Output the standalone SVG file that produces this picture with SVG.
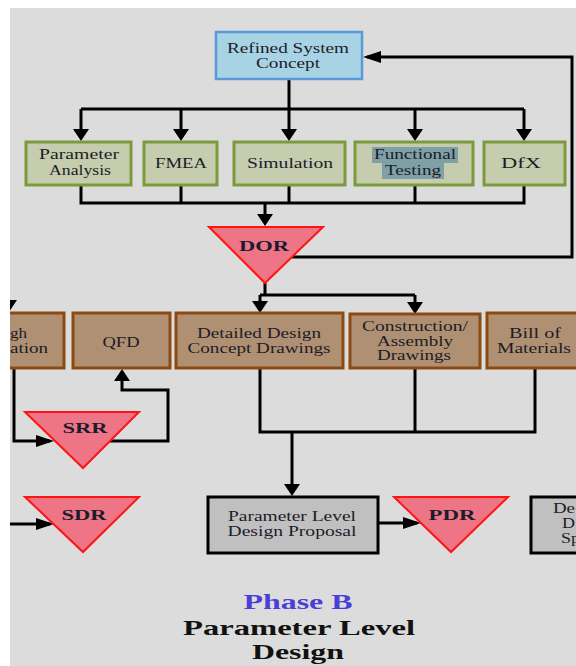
<svg xmlns="http://www.w3.org/2000/svg" width="576" height="666" viewBox="0 0 576 666">
<defs>
<style>
.t{font-family:"Liberation Serif","Times New Roman",serif;font-size:14px;fill:#1c1c28;text-anchor:middle}
.tb{font-family:"Liberation Serif","Times New Roman",serif;font-size:15px;font-weight:bold;fill:#1c1c30;text-anchor:middle}
.ttl{font-family:"Liberation Serif","Times New Roman",serif;font-size:21px;font-weight:bold;text-anchor:middle}
.blue{fill:#a8d3e4;stroke:#5b98d8;stroke-width:2.5}
.green{fill:#c6cdaf;stroke:#7b9a3a;stroke-width:3}
.brown{fill:#b09072;stroke:#8d4a10;stroke-width:3}
.gray{fill:#c0c0c0;stroke:#000;stroke-width:3}
.tri{fill:#ee7585;stroke:#ff1414;stroke-width:2}
.c{fill:none;stroke:#000;stroke-width:3}
</style>
<marker id="av" markerWidth="12" markerHeight="16" refX="8" refY="8" orient="auto" markerUnits="userSpaceOnUse"><path d="M0,0 L12,8 L0,16 z" fill="#000"/></marker>
<marker id="ah" markerWidth="18" markerHeight="12" refX="14" refY="6" orient="auto" markerUnits="userSpaceOnUse"><path d="M0,0 L18,6 L0,12 z" fill="#000"/></marker>
<clipPath id="vis"><rect x="10" y="8" width="566" height="658"/></clipPath>
</defs>
<rect x="0" y="0" width="576" height="666" fill="#fff"/>
<rect x="10" y="8" width="566" height="658" fill="#dcdcdc"/>
<g clip-path="url(#vis)">
<g id="connectors">
<path class="c" d="M289,80 V109"/>
<path class="c" d="M81,109 H524"/>
<path class="c" d="M81,109 V137" marker-end="url(#av)"/>
<path class="c" d="M181,109 V137" marker-end="url(#av)"/>
<path class="c" d="M289,109 V137" marker-end="url(#av)"/>
<path class="c" d="M415,109 V137" marker-end="url(#av)"/>
<path class="c" d="M524,109 V137" marker-end="url(#av)"/>
<path class="c" d="M81,185 V203 H524 V185 M181,185 V203 M289,185 V203 M415,185 V203"/>
<path class="c" d="M265,203 V222" marker-end="url(#av)"/>
<path class="c" d="M292,257 H572 V57 H367" marker-end="url(#ah)"/>
<path class="c" d="M265,283 V295"/>
<path class="c" d="M260,295 H415"/>
<path class="c" d="M260,295 V309" marker-end="url(#av)"/>
<path class="c" d="M415,295 V310" marker-end="url(#av)"/>
<polygon points="1,300 17,300 9,312" fill="#000"/>
<path class="c" d="M14,368 V441 H50" marker-end="url(#ah)"/>
<path class="c" d="M110,441 H168 V390 H122 V373" marker-end="url(#av)"/>
<path class="c" d="M0,524 H50" marker-end="url(#ah)"/>
<path class="c" d="M260,368 V432 H535 V368 M415,368 V432"/>
<path class="c" d="M292,432 V492" marker-end="url(#av)"/>
<path class="c" d="M378,523 H417" marker-end="url(#ah)"/>
</g>
<g id="refined">
<rect class="blue" x="216" y="32" width="146" height="47"/>
<text class="t" x="288" y="53" textLength="122" lengthAdjust="spacingAndGlyphs">Refined System</text>
<text class="t" x="288" y="68" textLength="64" lengthAdjust="spacingAndGlyphs">Concept</text>
</g>
<g id="param-analysis">
<rect class="green" x="26" y="142" width="105" height="43"/>
<text class="t" x="79" y="159" textLength="80" lengthAdjust="spacingAndGlyphs">Parameter</text>
<text class="t" x="80" y="175" textLength="62" lengthAdjust="spacingAndGlyphs">Analysis</text>
</g>
<g id="fmea">
<rect class="green" x="144" y="142" width="73" height="43"/>
<text class="t" x="181" y="168" textLength="52" lengthAdjust="spacingAndGlyphs">FMEA</text>
</g>
<g id="simulation">
<rect class="green" x="234" y="142" width="111" height="43"/>
<text class="t" x="290" y="168" textLength="86" lengthAdjust="spacingAndGlyphs">Simulation</text>
</g>
<g id="functional-testing">
<rect class="green" x="355" y="142" width="118" height="43"/>
<rect x="372" y="147" width="86" height="16" fill="#7fa0a6"/>
<rect x="382" y="163" width="62" height="16" fill="#7fa0a6"/>
<text class="t" x="415" y="159" textLength="82" lengthAdjust="spacingAndGlyphs">Functional</text>
<text class="t" x="413" y="175" textLength="56" lengthAdjust="spacingAndGlyphs">Testing</text>
</g>
<g id="dfx">
<rect class="green" x="484" y="142" width="81" height="43"/>
<text class="t" x="521" y="168" textLength="40" lengthAdjust="spacingAndGlyphs">DfX</text>
</g>
<g id="dor">
<polygon class="tri" points="209,227 323,227 265,283"/>
<text class="tb" x="264" y="251" textLength="50" lengthAdjust="spacingAndGlyphs">DOR</text>
</g>
<g id="left-partial">
<rect class="brown" x="-30" y="313" width="94" height="55"/>
<text class="t" x="10" y="338" style="text-anchor:start" textLength="17" lengthAdjust="spacingAndGlyphs">gh</text>
<text class="t" x="10" y="353" style="text-anchor:start" textLength="38" lengthAdjust="spacingAndGlyphs">ation</text>
</g>
<g id="qfd">
<rect class="brown" x="73" y="313" width="97" height="55"/>
<text class="t" x="121" y="347" textLength="37" lengthAdjust="spacingAndGlyphs">QFD</text>
</g>
<g id="detailed-design">
<rect class="brown" x="176" y="313" width="167" height="55"/>
<text class="t" x="259" y="338" textLength="124" lengthAdjust="spacingAndGlyphs">Detailed Design</text>
<text class="t" x="259" y="353" textLength="143" lengthAdjust="spacingAndGlyphs">Concept Drawings</text>
</g>
<g id="construction">
<rect class="brown" x="350" y="314" width="130" height="54"/>
<text class="t" x="415" y="331" textLength="106" lengthAdjust="spacingAndGlyphs">Construction/</text>
<text class="t" x="415" y="346" textLength="76" lengthAdjust="spacingAndGlyphs">Assembly</text>
<text class="t" x="414" y="360" textLength="74" lengthAdjust="spacingAndGlyphs">Drawings</text>
</g>
<g id="bill-of-materials">
<rect class="brown" x="487" y="313" width="100" height="55"/>
<text class="t" x="535" y="338" textLength="52" lengthAdjust="spacingAndGlyphs">Bill of</text>
<text class="t" x="534" y="353" textLength="74" lengthAdjust="spacingAndGlyphs">Materials</text>
</g>
<g id="srr">
<polygon class="tri" points="25,412 139,412 83,468"/>
<text class="tb" x="85" y="433" textLength="45" lengthAdjust="spacingAndGlyphs">SRR</text>
</g>
<g id="sdr">
<polygon class="tri" points="25,497 139,497 83,552"/>
<text class="tb" x="84" y="520" textLength="45" lengthAdjust="spacingAndGlyphs">SDR</text>
</g>
<g id="pldp">
<rect class="gray" x="208" y="497" width="170" height="56"/>
<text class="t" x="292" y="521" textLength="128" lengthAdjust="spacingAndGlyphs">Parameter Level</text>
<text class="t" x="292" y="536" textLength="129" lengthAdjust="spacingAndGlyphs">Design Proposal</text>
</g>
<g id="pdr">
<polygon class="tri" points="394,497 508,497 451,552"/>
<text class="tb" x="452" y="520" textLength="47" lengthAdjust="spacingAndGlyphs">PDR</text>
</g>
<g id="right-partial">
<rect class="gray" x="531" y="497" width="60" height="56"/>
<text class="t" x="553" y="513" style="text-anchor:start" textLength="22" lengthAdjust="spacingAndGlyphs">De</text>
<text class="t" x="562" y="528" style="text-anchor:start" textLength="13" lengthAdjust="spacingAndGlyphs">D</text>
<text class="t" x="561" y="543" style="text-anchor:start" textLength="19" lengthAdjust="spacingAndGlyphs">Sp</text>
</g>
<g id="title">
<text class="ttl" x="298" y="609" fill="#4b40d6" textLength="109" lengthAdjust="spacingAndGlyphs">Phase B</text>
<text class="ttl" x="299" y="635" fill="#111" textLength="232" lengthAdjust="spacingAndGlyphs">Parameter Level</text>
<text class="ttl" x="298" y="659" fill="#111" textLength="92" lengthAdjust="spacingAndGlyphs">Design</text>
</g>
</g>
</svg>
